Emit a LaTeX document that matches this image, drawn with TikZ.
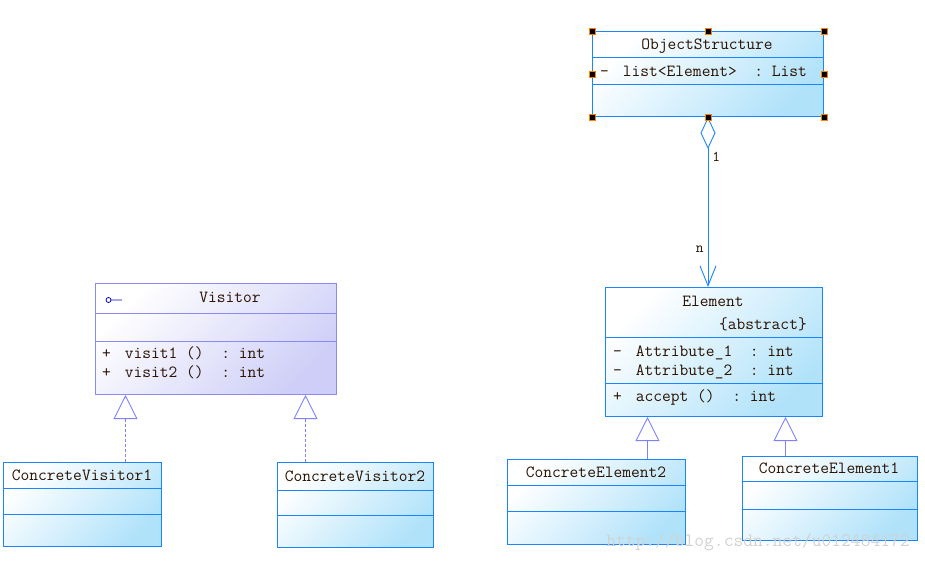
\documentclass[tikz,border=0pt]{standalone}
\usepackage{tikz}
\usetikzlibrary{positioning,arrows.meta}
\definecolor{clsline}{HTML}{1A85FF}
\definecolor{clsfill}{HTML}{B0E2FA}
\definecolor{visline}{HTML}{8A8AF2}
\definecolor{visfill}{HTML}{CECEF8}
\definecolor{genline}{HTML}{8080FF}
\definecolor{umltext}{HTML}{2A1200}
\newcommand{\member}[2]{#1\hskip 14pt #2}

\begin{document}
\begin{tikzpicture}[x=1pt, y=-1pt,
    classbox/.style={rectangle, draw=clsline, line width=1pt, top color=white, bottom color=clsfill, shading angle=45, anchor=north west, inner sep=0pt},
    visbox/.style={classbox, draw=visline, top color=white, bottom color=visfill, shading angle=45},
    divider/.style={draw=clsline, line width=0.9pt},
    visdivider/.style={draw=visline, line width=0.9pt},
    classname/.style={text=umltext, font=\fontsize{17}{19}\selectfont\ttfamily, inner sep=0pt, text height=12pt, text depth=2pt},
    member/.style={classname, anchor=west},
    realize/.style={draw=genline, line width=0.9pt, dash pattern=on 3pt off 2pt, -{Triangle[open, length=24pt, width=24pt]}},
    inherit/.style={draw=genline, line width=0.9pt, -{Triangle[open, length=24pt, width=24pt]}},
    aggr/.style={draw=clsline, line width=0.9pt, {Diamond[open, length=32pt, width=15pt]}-{Straight Barb[length=20pt, width=16pt]}},
    ]
    \useasboundingbox (0,0) rectangle (925,562);

    %Boxes
    \node[classbox, minimum width=231pt, minimum height=85pt] (objstruct) at (592,31) {};
    \node[classbox, minimum width=217pt, minimum height=129pt] (element) at (605,287) {};
    \node[visbox, minimum width=241pt, minimum height=111pt] (visitor) at (95,283) {};
    \node[classbox, minimum width=158pt, minimum height=84pt] (cvisitor1) at (3,462) {};
    \node[classbox, minimum width=156pt, minimum height=85pt] (cvisitor2) at (277,462) {};
    \node[classbox, minimum width=178pt, minimum height=85pt] (celement2) at (507,459) {};
    \node[classbox, minimum width=175pt, minimum height=84pt] (celement1) at (742,456) {};

    %Compartments
    \draw[divider] (592,57) -- (823,57) (592,84) -- (823,84);
    \draw[divider] (605,337) -- (822,337) (605,383) -- (822,383);
    \draw[visdivider] (95,313) -- (336,313) (95,341) -- (336,341);
    \draw[divider] (3,488) -- (161,488) (3,514) -- (161,514);
    \draw[divider] (277,490) -- (433,490) (277,515) -- (433,515);
    \draw[divider] (507,485) -- (685,485) (507,511) -- (685,511);
    \draw[divider] (742,481) -- (917,481) (742,509) -- (917,509);

    %Texts
    \node[classname] (osname) at (707,44) {ObjectStructure};
    \node[member] (oslist) at (600,71) {\member{-}{list<Element>\ \ :\ List}};
    \node[classname] (elname) at (713,301) {Element};
    \node[member] (elabstract) at (719,324) {\{abstract\}};
    \node[member] (elattr1) at (613,351) {\member{-}{Attribute\_1\ \ :\ int}};
    \node[member] (elattr2) at (613,370) {\member{-}{Attribute\_2\ \ :\ int}};
    \node[member] (elaccept) at (613,396) {\member{+}{accept\ ()\ \ :\ int}};
    \node[classname] (visname) at (230,297) {Visitor};
    \node[member] (visit1) at (102,353) {\member{+}{visit1\ ()\ \ :\ int}};
    \node[member] (visit2) at (102,372) {\member{+}{visit2\ ()\ \ :\ int}};
    \node[classname] (cv1name) at (82,475) {ConcreteVisitor1};
    \node[classname] (cv2name) at (355,476) {ConcreteVisitor2};
    \node[classname] (ce2name) at (596,472) {ConcreteElement2};
    \node[classname] (ce1name) at (829,468) {ConcreteElement1};
    \draw[blue!75!black, line width=0.8pt] (108.5,300) circle (2.5pt) (111,300) -- (122,300);

    %Lines
    \draw[aggr] (objstruct.south) -- (objstruct.south |- element.north)
        node[pos=0.23, right=4pt, classname, font=\fontsize{15}{17}\selectfont\ttfamily] (onelbl) {1}
        node[pos=0.77, left=4pt, classname, font=\fontsize{15}{17}\selectfont\ttfamily] (nlbl) {n};
    \draw[realize] ([xshift=43pt]cvisitor1.north) -- ([xshift=43pt]cvisitor1.north |- visitor.south);
    \draw[realize] ([xshift=-50pt]cvisitor2.north) -- ([xshift=-50pt]cvisitor2.north |- visitor.south);
    \draw[inherit] ([xshift=51pt]celement2.north) -- ([xshift=51pt]celement2.north |- element.south);
    \draw[inherit] ([xshift=-44.5pt]celement1.north) -- ([xshift=-44.5pt]celement1.north |- element.south);

    %Handles
    \foreach \a in {north west,north,north east,west,east,south west,south,south east}
        \filldraw[fill=black, draw=orange, line width=0.5pt] ([shift={(-3pt,-3pt)}]objstruct.\a) rectangle ++(6pt,6pt);

    \node[text=gray!35, font=\fontsize{19}{20}\selectfont\ttfamily, inner sep=0pt] (watermark) at (758,542) {http://blog.csdn.net/u012484172};
\end{tikzpicture}
\end{document}
